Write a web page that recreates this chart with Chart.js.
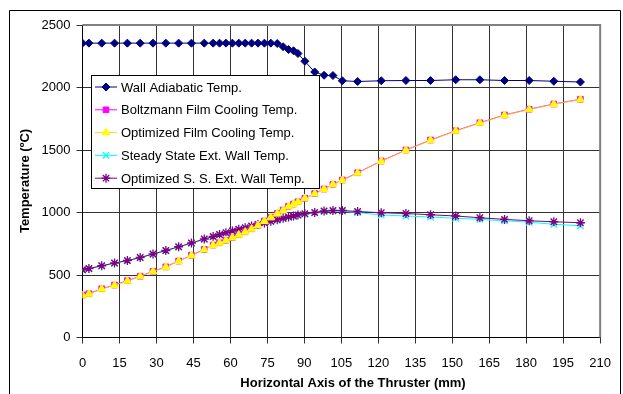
<!DOCTYPE html>
<html>
<head>
<meta charset="utf-8">
<script src="https://cdn.jsdelivr.net/npm/chart.js@4.4.0/dist/chart.umd.min.js"></script>
<style>
  html, body { margin: 0; padding: 0; background: #fff; }
  canvas { display: block; }
</style>
</head>
<body>
<canvas id="chart" width="623" height="394"></canvas>
<script>
// Axial stations along the thruster (mm)
const positions = [0, 2.6, 7.8, 13, 18.2, 23.4, 28.6, 33.8, 39, 44.2, 49.4, 53, 55.6, 58.2, 60.8, 63.4, 66, 68.6, 71.2, 73.8,
    76.4, 79, 81.4, 83.6, 85.6, 87.4, 90.2, 94.2, 98, 101.6, 105.4, 111.6, 121.2, 131.2, 141.2, 151.4, 161.2, 171.2, 181.2, 191.2, 202];

// Temperatures (ºC)
const wallAdiabatic = [2355, 2355, 2355, 2355, 2355, 2355, 2355, 2355, 2355, 2355, 2355, 2355, 2355, 2355, 2355, 2355, 2355, 2355, 2355, 2355,
    2355, 2352, 2326, 2304, 2294, 2272, 2210, 2124, 2098, 2096, 2054, 2048, 2054, 2056, 2056, 2062, 2062, 2056, 2056, 2050, 2044];
const boltzmannFilm = [340, 350, 390, 420, 455, 490, 530, 565, 612, 658, 705, 740, 758, 778, 800, 822, 846, 870, 898, 932,
    962, 992, 1020, 1050, 1068, 1086, 1114, 1152, 1188, 1226, 1260, 1318, 1412, 1500, 1580, 1654, 1718, 1780, 1826, 1868, 1906];
const optimizedFilm = [336, 348, 388, 418, 452, 488, 528, 563, 610, 656, 703, 738, 756, 776, 798, 820, 844, 868, 896, 930,
    960, 990, 1018, 1048, 1066, 1084, 1112, 1150, 1186, 1224, 1258, 1316, 1410, 1498, 1578, 1652, 1716, 1778, 1824, 1866, 1904];
const steadyState = [540, 550, 572, 594, 614, 638, 666, 694, 724, 754, 786, 806, 822, 836, 850, 864, 876, 890, 902, 915,
    928, 940, 952, 962, 970, 978, 988, 998, 1008, 1012, 1010, 1000, 980, 972, 964, 954, 945, 934, 922, 906, 894];
const optimizedSS = [542, 552, 574, 596, 616, 640, 668, 696, 726, 756, 788, 808, 824, 838, 852, 866, 878, 892, 904, 917,
    930, 942, 954, 964, 972, 980, 990, 1000, 1012, 1016, 1016, 1008, 998, 992, 982, 972, 958, 945, 934, 926, 918];

const xTicks = [0, 15, 30, 45, 60, 75, 90, 105, 120, 135, 150, 165, 180, 195, 210];
const yTicks = [0, 500, 1000, 1500, 2000, 2500];

const seriesNames = ['Wall Adiabatic Temp.', 'Boltzmann Film Cooling Temp.', 'Optimized Film Cooling Temp.',
    'Steady State Ext. Wall Temp.', 'Optimized S. S. Ext. Wall Temp.'];

const FONT = '"Liberation Sans", Arial, sans-serif';

function toPoints(values) {
    return values.map((v, i) => ({ x: positions[i], y: v }));
}

const datasets = [
    { label: seriesNames[0], data: toPoints(wallAdiabatic), borderColor: '#000080', backgroundColor: '#000080',
      pointStyle: 'rectRot', pointRadius: 4, order: 1 },
    { label: seriesNames[1], data: toPoints(boltzmannFilm), borderColor: '#ff00ff', backgroundColor: '#ff00ff',
      pointStyle: 'rect', pointRadius: 4, order: 3 },
    { label: seriesNames[2], data: toPoints(optimizedFilm), borderColor: 'rgba(255,210,0,0.85)', backgroundColor: '#ffff00',
      pointBorderColor: '#ffff00', pointStyle: 'triangle', pointRadius: 4.5, order: 2 },
    { label: seriesNames[3], data: toPoints(steadyState), borderColor: '#00ffff', backgroundColor: '#00ffff',
      pointStyle: 'crossRot', pointRadius: 4.5, pointBorderWidth: 1.3, order: 5 },
    { label: seriesNames[4], data: toPoints(optimizedSS), borderColor: '#800080', backgroundColor: '#800080',
      pointStyle: 'star', pointRadius: 4.5, pointBorderWidth: 1.3, order: 4 }
];
datasets.forEach(d => { d.showLine = true; d.borderWidth = 1; d.tension = 0; });

// Frame, plot border, axis titles and in-plot legend
const decorations = {
    id: 'decorations',
    afterDraw(chart) {
        const ctx = chart.ctx;
        const area = chart.chartArea;
        ctx.save();

        // outer frame
        ctx.strokeStyle = '#000';
        ctx.lineWidth = 1;
        ctx.beginPath();
        ctx.moveTo(9.5, 400);
        ctx.lineTo(9.5, 10.5);
        ctx.lineTo(620.5, 10.5);
        ctx.lineTo(620.5, 400);
        ctx.stroke();

        // plot area top/right border
        ctx.strokeStyle = '#808080';
        ctx.lineWidth = 2;
        ctx.beginPath();
        ctx.moveTo(area.left, area.top);
        ctx.lineTo(area.right, area.top);
        ctx.lineTo(area.right, area.bottom);
        ctx.stroke();

        // axis titles
        ctx.fillStyle = '#000';
        ctx.font = 'bold 13px ' + FONT;
        ctx.textAlign = 'center';
        ctx.textBaseline = 'middle';
        ctx.fillText('Horizontal Axis of the Thruster (mm)', 353, 383);
        ctx.save();
        ctx.translate(25, 181);
        ctx.rotate(-Math.PI / 2);
        ctx.fillText('Temperature (ºC)', 0, 0);
        ctx.restore();

        // legend
        const lx = 91.5, ly = 75.5, lw = 228, lh = 113;
        ctx.fillStyle = '#fff';
        ctx.fillRect(lx, ly, lw, lh);
        ctx.strokeStyle = '#000';
        ctx.lineWidth = 1;
        ctx.strokeRect(lx, ly, lw, lh);
        ctx.font = '13px ' + FONT;
        ctx.textAlign = 'left';
        chart.data.datasets.forEach((ds, i) => {
            const y = 87 + i * 22.8;
            ctx.strokeStyle = ds.borderColor;
            ctx.lineWidth = 1;
            ctx.beginPath();
            ctx.moveTo(95, y);
            ctx.lineTo(117, y);
            ctx.stroke();
            ctx.fillStyle = ds.backgroundColor;
            ctx.strokeStyle = ds.pointBorderColor || ds.borderColor;
            ctx.lineWidth = ds.pointBorderWidth || 1;
            Chart.helpers.drawPoint(ctx, { pointStyle: ds.pointStyle, radius: ds.pointRadius, rotation: 0,
                borderWidth: ds.pointBorderWidth || 1 }, 106, y);
            ctx.fillStyle = '#000';
            ctx.fillText(ds.label, 121, y + 1);
        });
        ctx.restore();
    }
};

new Chart(document.getElementById('chart'), {
    type: 'scatter',
    data: { datasets: datasets },
    options: {
        responsive: false,
        animation: false,
        layout: { padding: { top: 25, right: 12, left: 0, bottom: 0 } },
        plugins: { legend: { display: false }, tooltip: { enabled: false } },
        scales: {
            x: {
                type: 'linear',
                min: 0,
                max: 210,
                afterFit: scale => { scale.height = 56.5; },
                afterBuildTicks: scale => { scale.ticks = xTicks.map(v => ({ value: v })); },
                grid: { color: '#333', lineWidth: 1, tickLength: 6 },
                border: { color: '#000' },
                ticks: { color: '#000', font: { family: FONT, size: 13 }, padding: 12, maxRotation: 0,
                         callback: v => String(v) }
            },
            y: {
                min: 0,
                max: 2500,
                afterFit: scale => { scale.width = 82.5; },
                afterBuildTicks: scale => { scale.ticks = yTicks.map(v => ({ value: v })); },
                grid: { color: '#333', lineWidth: 1, tickLength: 6 },
                border: { color: '#000' },
                ticks: { color: '#000', font: { family: FONT, size: 13 }, padding: 6,
                         callback: v => String(v) }
            }
        }
    },
    plugins: [decorations]
});
</script>
</body>
</html>
